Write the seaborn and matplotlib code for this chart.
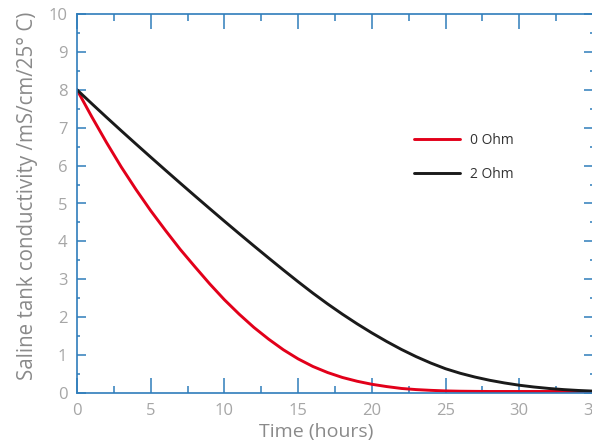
import matplotlib
matplotlib.use("Agg")
import matplotlib.pyplot as plt
import numpy as np
import pandas as pd
import seaborn as sns
from matplotlib.ticker import MultipleLocator

# ── data ─────────────────────────────────────────────────────────────────────

hours = list(range(0, 36))

v_red = [8.0, 7.29, 6.61, 5.965, 5.37, 4.81, 4.29, 3.79, 3.33, 2.88, 2.46,
         2.08, 1.73, 1.42, 1.14, 0.9, 0.7, 0.54, 0.41, 0.31, 0.23, 0.17,
         0.12, 0.09, 0.07, 0.055, 0.047, 0.043, 0.04, 0.04, 0.04, 0.04,
         0.04, 0.04, 0.04, 0.04]

v_black = [8.0, 7.635, 7.275, 6.92, 6.57, 6.223, 5.879, 5.538, 5.2, 4.865,
           4.533, 4.205, 3.881, 3.561, 3.245, 2.935, 2.635, 2.35, 2.08,
           1.825, 1.585, 1.36, 1.15, 0.96, 0.79, 0.64, 0.52, 0.42, 0.335,
           0.265, 0.205, 0.158, 0.12, 0.09, 0.067, 0.05]

series_names = ["0 Ohm", "2 Ohm"]
colors = ["#e2001a", "#1a1a1a"]

xlabel = "Time (hours)"
ylabel = "Saline tank conductivity /mS/cm/25° C)"

spine_col = "#2f7dbb"
tick_lab_col = "#a6a6a6"
label_col = "#8a8a8a"

# ── build long table ─────────────────────────────────────────────────────────

df = pd.concat([
    pd.DataFrame({"t": hours, "v": v_red, "series": series_names[0]}),
    pd.DataFrame({"t": hours, "v": v_black, "series": series_names[1]}),
], ignore_index=True)

sns.set_style("white")
plt.rcParams["font.family"] = ["Open Sans", "DejaVu Sans"]

fig = plt.figure(figsize=(5.92, 4.48), dpi=100)
ax = fig.add_axes([77 / 592, 55 / 448, 516 / 592, 379 / 448])

sns.lineplot(data=df, x="t", y="v", hue="series",
             palette=dict(zip(series_names, colors)),
             linewidth=2.1, ax=ax, legend=False, estimator=None, sort=True)

ax.set_xlim(0, 35)
ax.set_ylim(0, 10)

for s in ax.spines.values():
    s.set_color(spine_col)
    s.set_linewidth(1.2)

ax.xaxis.set_major_locator(MultipleLocator(5))
ax.xaxis.set_minor_locator(MultipleLocator(2.5))
ax.yaxis.set_major_locator(MultipleLocator(1))
ax.yaxis.set_minor_locator(MultipleLocator(0.5))

ax.tick_params(axis="x", which="major", direction="in", length=10.5,
               width=1.1, color=spine_col, top=True, bottom=True,
               labelsize=12, labelcolor=tick_lab_col, pad=7)
ax.tick_params(axis="x", which="minor", direction="in", length=5,
               width=1.1, color=spine_col, top=True, bottom=True)
ax.tick_params(axis="y", which="major", direction="in", length=6.5,
               width=1.1, color=spine_col, left=True, right=True,
               labelsize=12, labelcolor=tick_lab_col, pad=7)
ax.tick_params(axis="y", which="minor", direction="in", length=2.5,
               width=1.1, color=spine_col, left=True, right=True)

ax.set_xlabel(xlabel, fontsize=14, color=label_col)
ax.set_ylabel(ylabel, fontsize=14.8, color=label_col)
ax.xaxis.set_label_coords((316 - 77) / 516, -0.08)
ax.yaxis.set_label_coords(-0.076, 0.52)

handles = [plt.Line2D([], [], color=c, linewidth=2.1) for c in colors]
ax.legend(handles, series_names, loc="upper left", frameon=False,
          bbox_to_anchor=((414 - 77) / 516, (393 - 133) / 379),
          fontsize=10, handlelength=3.3, handletextpad=0.75,
          labelspacing=1.35, borderpad=0, borderaxespad=0,
          labelcolor="#333333")

fig.savefig("out.png", dpi=100)
